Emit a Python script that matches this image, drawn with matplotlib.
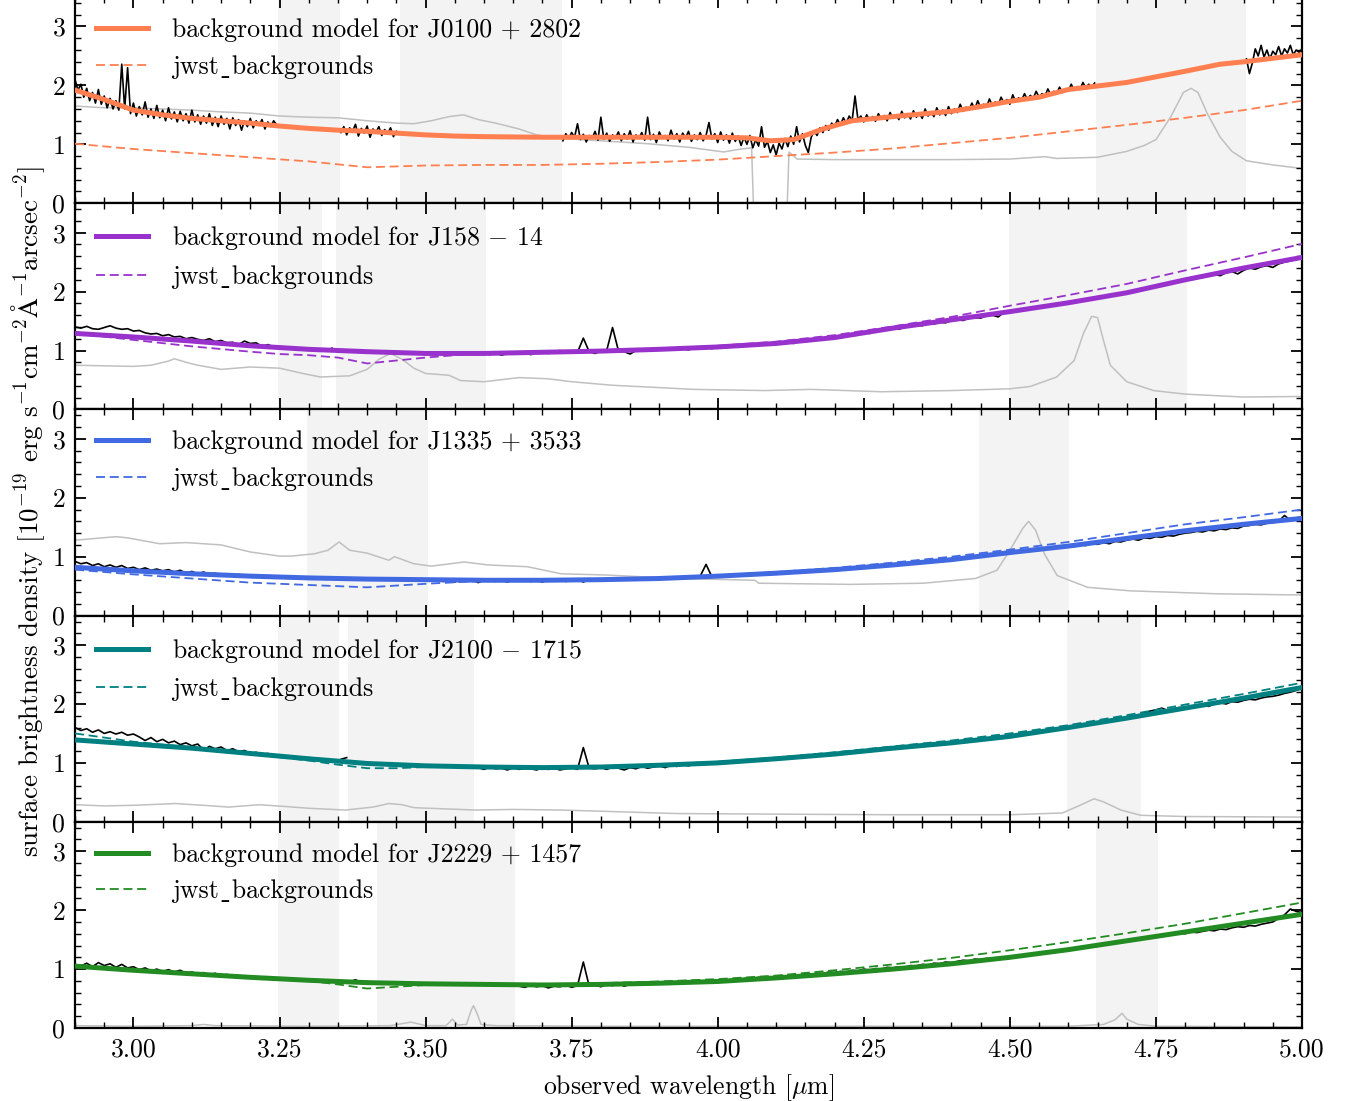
import numpy as np
import matplotlib
matplotlib.use("Agg")
import matplotlib.pyplot as plt
from matplotlib.ticker import MultipleLocator, FormatStrFormatter

plt.rcParams.update({
    "font.family": ["cmr10", "DejaVu Serif"],
    "mathtext.fontset": "cm",
    "axes.formatter.use_mathtext": True,
    "axes.unicode_minus": False,
})

# ---------------------------------------------------------------- data
names = ["J0100 + 2802", "J158 $-$ 14", "J1335 + 3533", "J2100 $-$ 1715", "J2229 + 1457"]
colors = ["coral", "darkorchid", "royalblue", "teal", "forestgreen"]

# wavelength windows excluded from the fit (shaded)
j0100_mask = [(3.248, 3.354), (3.456, 3.734), (4.648, 4.905)]
j158_mask = [(3.248, 3.323), (3.347, 3.604), (4.498, 4.804)]
j1335_mask = [(3.297, 3.504), (4.448, 4.602)]
j2100_mask = [(3.247, 3.352), (3.367, 3.583), (4.598, 4.724)]
j2229_mask = [(3.247, 3.352), (3.417, 3.653), (4.647, 4.753)]

# measured background in the unmasked segments (start wavelength + fixed step)
obs_steps = [0.005, 0.01, 0.01, 0.01, 0.01]
j0100_obs_start = [2.900, 3.355, 3.735, 4.905]
j0100_obs = [
    [2.10, 1.92, 2.02, 1.80, 1.95, 1.74, 1.88, 1.70, 1.93, 1.68,
     1.82, 1.62, 1.78, 1.60, 1.74, 1.58, 2.36, 1.60, 2.30, 1.52,
     1.70, 1.48, 1.64, 1.50, 1.72, 1.46, 1.60, 1.44, 1.66, 1.45,
     1.58, 1.40, 1.62, 1.43, 1.55, 1.38, 1.56, 1.40, 1.52, 1.36,
     1.58, 1.38, 1.50, 1.34, 1.48, 1.36, 1.52, 1.32, 1.46, 1.30,
     1.48, 1.34, 1.44, 1.26, 1.45, 1.32, 1.42, 1.24, 1.40, 1.30,
     1.44, 1.28, 1.40, 1.32, 1.42, 1.26, 1.38, 1.30, 1.40, 1.33],
    [1.20, 1.30, 1.16, 1.28, 1.22, 1.34, 1.14, 1.27, 1.19, 1.31,
     1.12, 1.26, 1.20, 1.30, 1.15, 1.25, 1.18, 1.28, 1.13, 1.22],
    [1.06, 1.18, 1.10, 1.20, 1.12, 1.35, 1.08, 1.17, 1.04, 1.15,
     1.10, 1.22, 1.07, 1.46, 1.09, 1.19, 1.05, 1.16, 1.11, 1.21,
     1.06, 1.18, 1.09, 1.23, 1.04, 1.16, 1.10, 1.20, 1.07, 1.46,
     1.08, 1.17, 1.03, 1.21, 1.10, 1.15, 1.06, 1.24, 1.09, 1.18,
     1.04, 1.19, 1.11, 1.22, 1.05, 1.16, 1.08, 1.20, 1.06, 1.15,
     1.37, 1.09, 1.18, 1.03, 1.21, 1.07, 1.16, 1.02, 1.19, 1.05,
     1.14, 0.98, 1.12, 1.00, 1.15, 0.94, 1.08, 0.97, 1.30, 0.95,
     1.05, 0.86, 0.99, 0.82, 1.02, 0.92, 1.10, 0.96, 1.14, 1.00,
     1.30, 1.04, 1.18, 0.98, 0.86, 1.12, 1.22, 1.15, 1.28, 1.20,
     1.32, 1.24, 1.36, 1.30, 1.42, 1.33, 1.45, 1.36, 1.48, 1.40,
     1.82, 1.42, 1.48, 1.38, 1.50, 1.41, 1.47, 1.39, 1.52, 1.43,
     1.49, 1.40, 1.54, 1.44, 1.50, 1.42, 1.56, 1.45, 1.52, 1.43,
     1.57, 1.46, 1.53, 1.44, 1.60, 1.48, 1.55, 1.47, 1.62, 1.50,
     1.58, 1.49, 1.64, 1.52, 1.60, 1.54, 1.68, 1.56, 1.63, 1.58,
     1.70, 1.60, 1.74, 1.62, 1.68, 1.63, 1.77, 1.66, 1.72, 1.67,
     1.80, 1.70, 1.76, 1.68, 1.84, 1.72, 1.79, 1.74, 1.86, 1.76,
     1.83, 1.78, 1.90, 1.80, 1.86, 1.82, 1.94, 1.84, 1.90, 1.86,
     1.97, 1.88, 1.94, 1.90, 2.02, 1.92, 1.98, 1.93, 2.05, 1.96,
     2.02, 1.97, 2.04],
    [2.45, 2.20, 2.38, 2.62, 2.50, 2.68, 2.48, 2.60, 2.45, 2.58,
     2.52, 2.66, 2.50, 2.62, 2.55, 2.68, 2.52, 2.60, 2.56, 2.62],
]
j158_obs_start = [2.90, 3.33, 3.61, 4.81]
j158_obs = [
    [1.40, 1.38, 1.41, 1.37, 1.36, 1.39, 1.42, 1.38, 1.36, 1.37,
     1.33, 1.34, 1.30, 1.28, 1.29, 1.25, 1.27, 1.23, 1.24, 1.20,
     1.22, 1.19, 1.17, 1.20, 1.15, 1.17, 1.13, 1.14, 1.10, 1.16,
     1.12, 1.13, 1.07, 1.10, 1.06],
    [1.00, 1.04],
    [0.93, 0.96, 0.92, 0.95, 0.97, 0.94, 0.96, 0.93, 0.97, 0.98,
     0.95, 0.97, 1.00, 0.96, 0.99, 0.97, 1.21, 0.98, 0.95, 0.99,
     1.00, 1.39, 1.00, 0.98, 0.94, 1.00, 1.02, 0.99, 1.03, 1.01,
     1.04, 1.02, 1.05, 1.03, 1.01, 1.05, 1.04, 1.06, 1.03, 1.07,
     1.05, 1.08, 1.06, 1.09, 1.07, 1.10, 1.08, 1.11, 1.09, 1.13,
     1.11, 1.14, 1.12, 1.16, 1.15, 1.17, 1.19, 1.18, 1.21, 1.22,
     1.21, 1.25, 1.26, 1.27, 1.30, 1.29, 1.33, 1.34, 1.36, 1.37,
     1.36, 1.40, 1.41, 1.43, 1.42, 1.46, 1.45, 1.48, 1.47, 1.51,
     1.52, 1.51, 1.55, 1.56, 1.55, 1.59, 1.60, 1.57, 1.65],
    [2.24, 2.25, 2.24, 2.28, 2.29, 2.27, 2.32, 2.34, 2.30, 2.36,
     2.40, 2.38, 2.42, 2.44, 2.41, 2.47, 2.50, 2.52, 2.55, 2.58],
]
j1335_obs_start = [2.90, 3.51, 4.61]
j1335_obs = [
    [0.92, 0.88, 0.90, 0.85, 0.88, 0.83, 0.86, 0.82, 0.85, 0.80,
     0.82, 0.78, 0.81, 0.77, 0.79, 0.76, 0.78, 0.74, 0.77, 0.72,
     0.75, 0.71, 0.74, 0.70, 0.72, 0.69, 0.71, 0.67, 0.70, 0.66,
     0.69, 0.65, 0.68, 0.64, 0.67, 0.64, 0.66, 0.63, 0.65, 0.63],
    [0.60, 0.62, 0.58, 0.61, 0.57, 0.62, 0.59, 0.61, 0.56, 0.60,
     0.62, 0.58, 0.60, 0.57, 0.61, 0.59, 0.62, 0.58, 0.60, 0.57,
     0.61, 0.59, 0.62, 0.58, 0.60, 0.61, 0.57, 0.62, 0.60, 0.61,
     0.59, 0.62, 0.60, 0.63, 0.61, 0.60, 0.63, 0.61, 0.64, 0.62,
     0.64, 0.62, 0.65, 0.63, 0.66, 0.64, 0.67, 0.87, 0.66, 0.68,
     0.67, 0.69, 0.68, 0.70, 0.69, 0.71, 0.70, 0.72, 0.71, 0.74,
     0.73, 0.75, 0.74, 0.76, 0.75, 0.77, 0.76, 0.79, 0.78, 0.80,
     0.79, 0.82, 0.81, 0.83, 0.82, 0.85, 0.83, 0.87, 0.85, 0.88,
     0.87, 0.89, 0.88, 0.91, 0.90, 0.93, 0.92, 0.95, 0.94, 0.97,
     0.96, 0.99, 0.98, 1.01],
    [1.17, 1.20, 1.19, 1.22, 1.21, 1.24, 1.22, 1.26, 1.25, 1.28,
     1.30, 1.28, 1.32, 1.31, 1.34, 1.33, 1.36, 1.35, 1.38, 1.40,
     1.41, 1.43, 1.42, 1.45, 1.44, 1.47, 1.46, 1.49, 1.48, 1.52,
     1.53, 1.55, 1.54, 1.57, 1.58, 1.60, 1.70, 1.62, 1.66, 1.67],
]
j2100_obs_start = [2.90, 3.355, 3.59, 4.73]
j2100_obs = [
    [1.60, 1.55, 1.58, 1.52, 1.56, 1.50, 1.53, 1.49, 1.52, 1.47,
     1.49, 1.44, 1.38, 1.43, 1.36, 1.40, 1.34, 1.37, 1.31, 1.34,
     1.29, 1.32, 1.22, 1.28, 1.24, 1.27, 1.21, 1.24, 1.19, 1.21,
     1.16, 1.18, 1.14, 1.16, 1.12],
    [1.06, 1.09],
    [0.92, 0.89, 0.93, 0.90, 0.91, 0.88, 0.92, 0.89, 0.91, 0.90,
     0.88, 0.92, 0.89, 0.91, 0.88, 0.90, 0.92, 0.89, 1.26, 0.91,
     0.90, 0.92, 0.89, 0.93, 0.91, 0.88, 0.92, 0.90, 0.94, 0.91,
     0.93, 0.95, 0.92, 0.96, 0.94, 0.97, 0.95, 0.98, 0.96, 0.99,
     0.98, 1.00, 0.99, 1.02, 1.01, 1.03, 1.02, 1.05, 1.04, 1.06,
     1.05, 1.08, 1.07, 1.09, 1.08, 1.11, 1.12, 1.11, 1.14, 1.13,
     1.15, 1.14, 1.17, 1.16, 1.19, 1.18, 1.20, 1.22, 1.21, 1.24,
     1.23, 1.26, 1.25, 1.27, 1.26, 1.29, 1.28, 1.31, 1.30, 1.33,
     1.32, 1.35, 1.34, 1.37, 1.36, 1.39, 1.40, 1.39, 1.42, 1.43,
     1.44, 1.46, 1.45, 1.48, 1.50, 1.49, 1.52, 1.53, 1.55, 1.56,
     1.58],
    [1.84, 1.88, 1.90, 1.93, 1.89, 1.92, 1.94, 1.93, 1.96, 1.95,
     1.98, 1.96, 2.00, 2.02, 2.00, 2.04, 2.03, 2.06, 2.08, 2.07,
     2.10, 2.12, 2.13, 2.15, 2.18, 2.20, 2.23, 2.27],
]
j2229_obs_start = [2.90, 3.36, 3.66, 4.76]
j2229_obs = [
    [1.08, 1.05, 1.10, 1.04, 1.11, 1.06, 1.09, 1.03, 1.08, 1.02,
     1.04, 0.99, 1.02, 0.97, 1.00, 0.96, 0.99, 0.95, 0.98, 0.93,
     0.95, 0.92, 0.94, 0.90, 0.93, 0.88, 0.91, 0.87, 0.89, 0.85,
     0.88, 0.84, 0.86, 0.83, 0.85],
    [0.80, 0.78, 0.82, 0.77, 0.79, 0.76],
    [0.71, 0.69, 0.73, 0.70, 0.72, 0.68, 0.71, 0.70, 0.73, 0.69,
     0.72, 1.12, 0.71, 0.73, 0.70, 0.74, 0.72, 0.75, 0.71, 0.74,
     0.73, 0.76, 0.74, 0.77, 0.75, 0.76, 0.78, 0.75, 0.79, 0.77,
     0.78, 0.80, 0.79, 0.81, 0.80, 0.82, 0.81, 0.83, 0.82, 0.85,
     0.84, 0.86, 0.85, 0.87, 0.86, 0.89, 0.88, 0.90, 0.89, 0.92,
     0.91, 0.93, 0.92, 0.95, 0.94, 0.96, 0.95, 0.98, 0.97, 1.00,
     0.98, 1.01, 1.00, 1.03, 1.02, 1.04, 1.03, 1.06, 1.05, 1.08,
     1.07, 1.10, 1.09, 1.12, 1.11, 1.13, 1.15, 1.14, 1.17, 1.16,
     1.18, 1.17, 1.20, 1.19, 1.22, 1.21, 1.24, 1.23, 1.26, 1.27,
     1.28, 1.30, 1.29, 1.32, 1.34, 1.33, 1.36, 1.37, 1.40],
    [1.56, 1.59, 1.58, 1.61, 1.60, 1.63, 1.62, 1.64, 1.66, 1.65,
     1.68, 1.67, 1.70, 1.72, 1.71, 1.74, 1.73, 1.76, 1.78, 1.80,
     1.86, 1.92, 2.02, 1.98, 1.96],
]

# fitted background model
j0100_model_wl = [2.90, 2.95, 3.00, 3.05, 3.10, 3.15, 3.20, 3.25, 3.30, 3.35, 3.40,
                  3.45, 3.50, 3.55, 3.60, 3.70, 3.80, 3.90, 4.00, 4.05, 4.09, 4.13,
                  4.18, 4.23, 4.31, 4.40, 4.45, 4.50, 4.55, 4.60, 4.65, 4.70, 4.80,
                  4.86, 4.90, 4.95, 5.00]
j0100_model = [1.92, 1.76, 1.58, 1.50, 1.44, 1.40, 1.36, 1.31, 1.27, 1.24, 1.22,
               1.19, 1.16, 1.14, 1.13, 1.12, 1.12, 1.12, 1.12, 1.11, 1.06, 1.08,
               1.26, 1.40, 1.48, 1.56, 1.64, 1.73, 1.80, 1.93, 1.99, 2.05, 2.24,
               2.36, 2.40, 2.46, 2.52]
grid_wl = [2.9, 3.0, 3.1, 3.2, 3.3, 3.4, 3.5, 3.6, 3.7, 3.8, 3.9, 4.0,
           4.1, 4.2, 4.3, 4.4, 4.5, 4.6, 4.7, 4.8, 4.9, 5.0]
j158_model = [1.29, 1.23, 1.16, 1.08, 1.02, 0.98, 0.95, 0.95, 0.97, 0.99, 1.02,
              1.06, 1.12, 1.22, 1.38, 1.52, 1.66, 1.81, 1.98, 2.20, 2.40, 2.58]
j1335_model = [0.82, 0.76, 0.71, 0.67, 0.64, 0.62, 0.61, 0.60, 0.60, 0.61, 0.63,
               0.67, 0.72, 0.78, 0.86, 0.95, 1.07, 1.18, 1.31, 1.44, 1.55, 1.65]
j2100_model = [1.39, 1.32, 1.25, 1.16, 1.07, 0.99, 0.95, 0.93, 0.92, 0.93, 0.96,
               1.00, 1.07, 1.15, 1.25, 1.34, 1.45, 1.60, 1.76, 1.93, 2.10, 2.28]
j2229_model = [1.05, 0.98, 0.92, 0.86, 0.81, 0.77, 0.75, 0.74, 0.73, 0.74, 0.76,
               0.79, 0.85, 0.92, 1.00, 1.09, 1.20, 1.33, 1.48, 1.63, 1.78, 1.93]

# jwst_backgrounds prediction
j0100_jbg = [1.01, 0.92, 0.85, 0.78, 0.71, 0.61, 0.64, 0.65, 0.65, 0.67, 0.70,
             0.74, 0.80, 0.86, 0.93, 1.02, 1.11, 1.22, 1.33, 1.45, 1.58, 1.74]
j158_jbg_wl = [2.90, 3.00, 3.10, 3.20, 3.25, 3.30, 3.35, 3.40, 3.45, 3.50, 3.55, 3.60,
               3.70, 3.80, 3.90, 4.00, 4.10, 4.20, 4.30, 4.40, 4.50, 4.60, 4.70,
               4.80, 4.90, 5.00]
j158_jbg = [1.29, 1.18, 1.07, 0.98, 0.94, 0.92, 0.88, 0.78, 0.83, 0.88, 0.92, 0.95,
            0.97, 1.00, 1.03, 1.08, 1.15, 1.26, 1.41, 1.57, 1.76, 1.94, 2.13,
            2.36, 2.58, 2.81]
j1335_jbg = [0.78, 0.70, 0.63, 0.56, 0.52, 0.48, 0.54, 0.59, 0.60, 0.62, 0.64,
             0.68, 0.74, 0.81, 0.90, 1.00, 1.12, 1.25, 1.40, 1.55, 1.67, 1.80]
j2100_jbg_wl = [2.90, 2.95, 3.00, 3.10, 3.20, 3.30, 3.35, 3.40, 3.45, 3.50, 3.60,
                3.70, 3.80, 3.90, 4.00, 4.10, 4.20, 4.30, 4.40, 4.50, 4.60, 4.70,
                4.80, 4.90, 5.00]
j2100_jbg = [1.50, 1.43, 1.36, 1.26, 1.15, 1.04, 0.97, 0.91, 0.91, 0.93, 0.93,
             0.93, 0.94, 0.97, 1.02, 1.09, 1.18, 1.28, 1.38, 1.50, 1.64, 1.81,
             1.99, 2.17, 2.36]
j2229_jbg_wl = [2.90, 3.00, 3.10, 3.20, 3.30, 3.35, 3.40, 3.45, 3.50, 3.60, 3.70,
                3.80, 3.90, 4.00, 4.10, 4.20, 4.30, 4.40, 4.50, 4.60, 4.70, 4.80,
                4.90, 5.00]
j2229_jbg = [1.07, 0.99, 0.93, 0.86, 0.80, 0.74, 0.67, 0.70, 0.73, 0.74, 0.74,
             0.76, 0.79, 0.83, 0.89, 0.98, 1.08, 1.19, 1.32, 1.46, 1.61, 1.77,
             1.95, 2.13]

# source spectrum (grey)
j0100_src_wl = [2.90, 2.95, 3.00, 3.05, 3.10, 3.15, 3.20, 3.25, 3.30, 3.35, 3.40,
                3.45, 3.48, 3.51, 3.54, 3.565, 3.59, 3.62, 3.66, 3.69, 3.73, 3.80,
                3.88, 3.95, 4.01, 4.04, 4.058, 4.062, 4.118, 4.122, 4.136, 4.20,
                4.30, 4.40, 4.50, 4.56, 4.58, 4.65, 4.70, 4.73, 4.75, 4.775, 4.797,
                4.81, 4.822, 4.838, 4.86, 4.88, 4.905, 4.95, 5.00]
j0100_src = [1.65, 1.62, 1.62, 1.60, 1.58, 1.55, 1.53, 1.48, 1.46, 1.45, 1.40,
             1.36, 1.35, 1.40, 1.47, 1.50, 1.42, 1.36, 1.26, 1.16, 1.10, 1.06,
             1.01, 0.95, 0.87, 0.92, 0.94, -0.30, -0.30, 0.87, 0.75, 0.74,
             0.74, 0.74, 0.75, 0.79, 0.76, 0.78, 0.88, 0.98, 1.08, 1.46, 1.88,
             1.95, 1.88, 1.52, 1.12, 0.88, 0.72, 0.65, 0.59]
j158_src_wl = [2.90, 2.95, 3.00, 3.03, 3.06, 3.07, 3.09, 3.11, 3.15, 3.20, 3.25,
               3.29, 3.32, 3.37, 3.40, 3.42, 3.44, 3.46, 3.48, 3.50, 3.54, 3.56,
               3.60, 3.66, 3.71, 3.75, 3.82, 3.88, 3.96, 4.08, 4.16, 4.28, 4.40,
               4.50, 4.535, 4.58, 4.61, 4.626, 4.64, 4.65, 4.66, 4.672, 4.70,
               4.746, 4.80, 4.90, 5.00]
j158_src = [0.75, 0.74, 0.73, 0.75, 0.82, 0.86, 0.80, 0.75, 0.68, 0.72, 0.70,
            0.61, 0.55, 0.57, 0.68, 0.85, 0.95, 0.85, 0.70, 0.61, 0.58, 0.49,
            0.47, 0.54, 0.52, 0.47, 0.41, 0.38, 0.34, 0.32, 0.34, 0.30, 0.32,
            0.35, 0.39, 0.55, 0.83, 1.29, 1.58, 1.56, 1.18, 0.75, 0.47,
            0.32, 0.26, 0.21, 0.22]
j1335_src_wl = [2.90, 2.97, 2.99, 3.045, 3.09, 3.12, 3.15, 3.20, 3.25, 3.27, 3.31,
                3.333, 3.352, 3.37, 3.40, 3.437, 3.447, 3.48, 3.51, 3.566, 3.607,
                3.674, 3.732, 3.807, 3.93, 4.064, 4.07, 4.227, 4.352, 4.441,
                4.478, 4.50, 4.522, 4.532, 4.544, 4.559, 4.581, 4.633, 4.707,
                4.856, 5.00]
j1335_src = [1.28, 1.34, 1.32, 1.22, 1.24, 1.22, 1.20, 1.08, 1.01, 1.01, 1.05,
             1.11, 1.25, 1.11, 1.06, 0.94, 1.00, 0.88, 0.84, 0.91, 0.86,
             0.83, 0.71, 0.69, 0.63, 0.60, 0.55, 0.53, 0.55, 0.63,
             0.77, 1.11, 1.48, 1.60, 1.45, 1.05, 0.68, 0.48, 0.42,
             0.37, 0.35]
j2100_src_wl = [2.90, 2.95, 3.00, 3.072, 3.12, 3.163, 3.215, 3.26, 3.30, 3.363,
                3.41, 3.437, 3.46, 3.48, 3.584, 3.65, 3.73, 3.80, 3.931, 4.10,
                4.30, 4.50, 4.59, 4.62, 4.644, 4.66, 4.69, 4.724, 4.80, 5.00]
j2100_src = [0.29, 0.27, 0.28, 0.31, 0.28, 0.25, 0.29, 0.26, 0.23, 0.20,
             0.25, 0.31, 0.29, 0.24, 0.20, 0.21, 0.20, 0.18, 0.14, 0.13,
             0.12, 0.12, 0.15, 0.28, 0.39, 0.34, 0.20, 0.11, 0.09, 0.08]
j2229_src_wl = [2.90, 3.00, 3.10, 3.12, 3.14, 3.30, 3.44, 3.475, 3.50, 3.535,
                3.546, 3.555, 3.57, 3.578, 3.582, 3.588, 3.595, 3.62, 3.80, 4.00,
                4.30, 4.60, 4.66, 4.68, 4.692, 4.70, 4.72, 4.75, 5.00]
j2229_src = [0.04, 0.03, 0.04, 0.06, 0.04, 0.03, 0.04, 0.10, 0.04, 0.04,
             0.15, 0.05, 0.06, 0.30, 0.38, 0.25, 0.06, 0.04, 0.03, 0.03,
             0.03, 0.03, 0.06, 0.14, 0.25, 0.15, 0.06, 0.03, 0.02]

masks = [j0100_mask, j158_mask, j1335_mask, j2100_mask, j2229_mask]
obs_starts = [j0100_obs_start, j158_obs_start, j1335_obs_start, j2100_obs_start, j2229_obs_start]
obs_vals = [j0100_obs, j158_obs, j1335_obs, j2100_obs, j2229_obs]
models = [(j0100_model_wl, j0100_model), (grid_wl, j158_model), (grid_wl, j1335_model),
          (grid_wl, j2100_model), (grid_wl, j2229_model)]
jbgs = [(grid_wl, j0100_jbg), (j158_jbg_wl, j158_jbg), (grid_wl, j1335_jbg),
        (j2100_jbg_wl, j2100_jbg), (j2229_jbg_wl, j2229_jbg)]
srcs = [(j0100_src_wl, j0100_src), (j158_src_wl, j158_src), (j1335_src_wl, j1335_src),
        (j2100_src_wl, j2100_src), (j2229_src_wl, j2229_src)]

# ---------------------------------------------------------------- figure
fig, axes = plt.subplots(5, 1, figsize=(13.54, 11.01), dpi=100, sharex=True,
                         gridspec_kw=dict(hspace=0.0))
fig.subplots_adjust(left=0.0554, right=0.9616, bottom=0.0663, top=1.0027)

FS = 18.5
FS_LEG = 18.6
for i, ax in enumerate(axes):
    for lo, hi in masks[i]:
        ax.axvspan(lo, hi, color="#f3f3f3", lw=0, zorder=0)
    ax.plot(*srcs[i], color="#c0c0c0", lw=1.1, zorder=1)
    for start, vals in zip(obs_starts[i], obs_vals[i]):
        wl = start + obs_steps[i] * np.arange(len(vals))
        ax.plot(wl, vals, color="black", lw=1.2, zorder=2)
    ax.plot(*models[i], color=colors[i], lw=3.6, zorder=3,
            label="background model for " + names[i])
    ax.plot(*jbgs[i], color=colors[i], lw=1.3, ls=(0, (5, 2.6)), zorder=4,
            label="jwst\u02cdbackgrounds")

    ax.set_xlim(2.9, 5.0)
    ax.set_ylim(0, 3.5)
    ax.xaxis.set_major_locator(MultipleLocator(0.25))
    ax.xaxis.set_minor_locator(MultipleLocator(0.05))
    ax.yaxis.set_major_locator(MultipleLocator(1))
    ax.yaxis.set_minor_locator(MultipleLocator(0.2))
    ax.xaxis.set_major_formatter(FormatStrFormatter("%.2f"))
    ax.tick_params(which="both", direction="in", top=True, right=True,
                   labelsize=FS, width=1.3)
    ax.tick_params(axis="x", which="major", pad=7)
    ax.tick_params(axis="y", which="major", pad=7)
    ax.tick_params(which="major", length=8)
    ax.tick_params(which="minor", length=4.5, width=1.0)
    for sp in ax.spines.values():
        sp.set_linewidth(1.6)
    ax.legend(loc="upper left", frameon=False, fontsize=FS_LEG, handlelength=2.0,
              handletextpad=0.92, labelspacing=0.5, borderaxespad=0.42)

axes[-1].set_xlabel(r"observed wavelength [$\mu$m]", fontsize=FS, labelpad=8)
fig.text(0.021, 0.535,
         r"surface brightness density [$10^{-19}$ erg s$^{-1}$cm$^{-2}$$\mathrm{\AA}^{-1}$arcsec$^{-2}$]",
         rotation=90, ha="center", va="center", fontsize=19.5)

fig.savefig("out.png", dpi=100)
